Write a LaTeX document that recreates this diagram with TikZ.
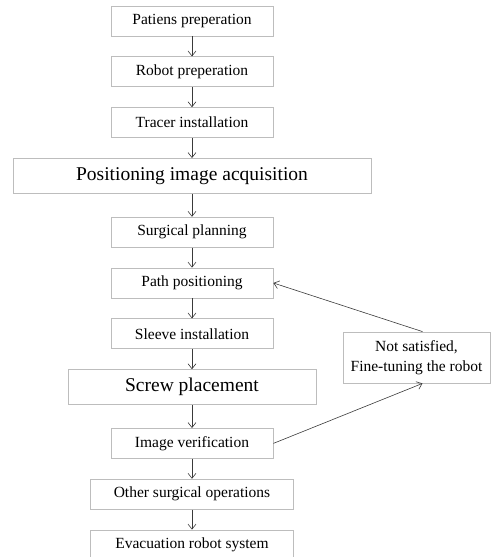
\documentclass[tikz,border=0pt]{standalone}
\usepackage{fontspec}
\setmainfont{Liberation Serif}
\usetikzlibrary{arrows.meta,positioning}
\definecolor{boxgray}{HTML}{BDBDBD}
\definecolor{linegray}{HTML}{3A3A3A}

\begin{document}
\begin{tikzpicture}[
    node distance=20pt,
    stepbox/.style={draw=boxgray, line width=0.8pt, align=center, minimum width=162pt, minimum height=30pt, inner sep=0pt, font=\fontsize{15.5}{17}\selectfont},
    bigbox/.style={stepbox, minimum height=35pt, font=\fontsize{19.5}{21}\selectfont},
    arrow/.style={-{Straight Barb[length=5pt,width=8pt]}, line width=0.6pt, draw=linegray}
]
\useasboundingbox (0,0) rectangle (500pt,-557pt);
\node[stepbox] (patient) at (192pt,-21pt) {Patiens preperation};
\node[stepbox, below=of patient] (robot) {Robot preperation};
\node[stepbox, below=of robot] (tracer) {Tracer installation};
\node[bigbox, below=of tracer, minimum width=358pt] (acquire) {Positioning image acquisition};
\node[stepbox, below=23pt of acquire] (plan) {Surgical planning};
\node[stepbox, below=of plan] (path) {Path positioning};
\node[stepbox, below=of path] (sleeve) {Sleeve installation};
\node[bigbox, below=of sleeve, minimum width=248pt] (screw) {Screw placement};
\node[stepbox, below=23pt of screw] (verify) {Image verification};
\node[stepbox, below=of verify, minimum width=203pt] (other) {Other surgical operations};
\node[stepbox, below=of other, minimum width=203pt] (evac) {Evacuation robot system};
\node[stepbox, minimum width=147pt, minimum height=51pt, font=\fontsize{15.5}{20}\selectfont] (fix) at (416.5pt,-357.5pt) {Not satisfied,\\Fine-tuning the robot};
\draw[arrow] (patient) -- (robot);
\draw[arrow] (robot) -- (tracer);
\draw[arrow] (tracer) -- (acquire);
\draw[arrow] (acquire) -- (plan);
\draw[arrow] (plan) -- (path);
\draw[arrow] (path) -- (sleeve);
\draw[arrow] (sleeve) -- (screw);
\draw[arrow] (screw) -- (verify);
\draw[arrow] (verify) -- (other);
\draw[arrow] (other) -- (evac);
\draw[arrow] (verify.east) -- ([xshift=6pt]fix.south);
\draw[arrow] ([xshift=6pt]fix.north) -- (path.east);
\end{tikzpicture}
\end{document}
